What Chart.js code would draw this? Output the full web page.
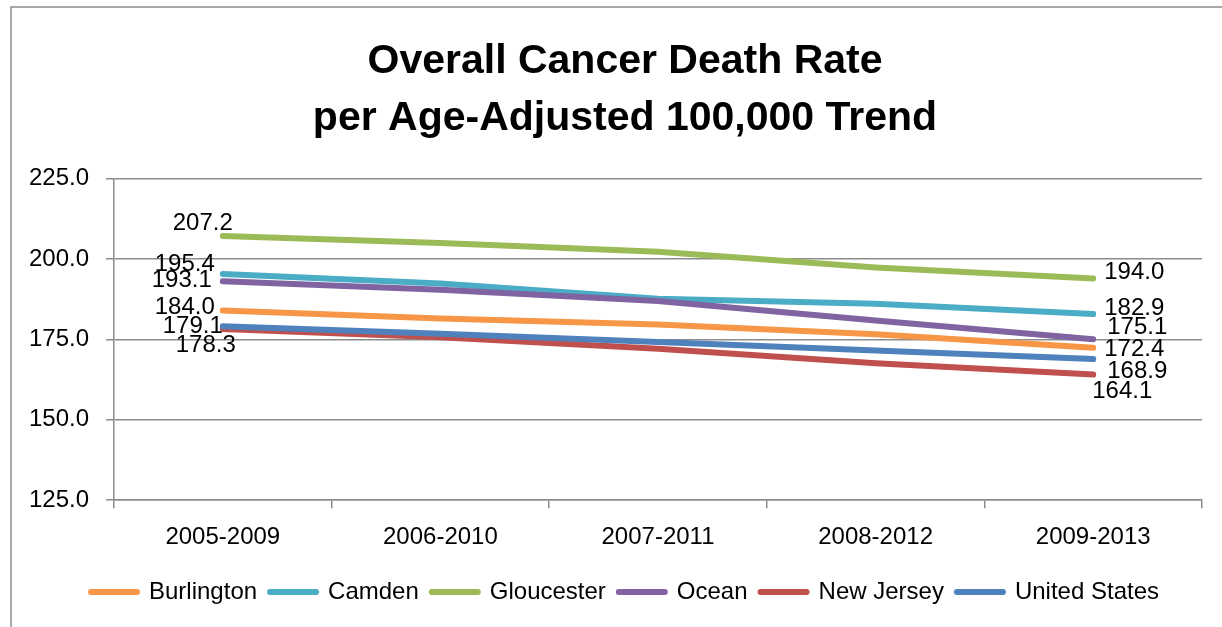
<!DOCTYPE html>
<html>
<head>
<meta charset="utf-8">
<script src="https://cdn.jsdelivr.net/npm/chart.js@4.4.0/dist/chart.umd.min.js"></script>
<style>
  html, body { margin: 0; padding: 0; background: #ffffff; }
  #wrap { position: relative; width: 1222px; height: 627px; }
</style>
</head>
<body>
<div id="wrap"><canvas id="c" width="1222" height="627"></canvas></div>
<script>
// ---- data ----
const categories = ['2005-2009', '2006-2010', '2007-2011', '2008-2012', '2009-2013'];
const seriesNames = ['Burlington', 'Camden', 'Gloucester', 'Ocean', 'New Jersey', 'United States'];
const burlington   = [184.0, 181.5, 179.7, 176.6, 172.4];
const camden       = [195.4, 192.4, 187.7, 186.1, 182.9];
const gloucester   = [207.2, 205.0, 202.3, 197.4, 194.0];
const ocean        = [193.1, 190.5, 187.0, 180.9, 175.1];
const newJersey    = [178.3, 175.7, 172.1, 167.6, 164.1];
const unitedStates = [179.1, 176.8, 174.2, 171.6, 168.9];
const yTicks = [125, 150, 175, 200, 225];
const titleLines = ['Overall Cancer Death Rate', 'per Age-Adjusted 100,000 Trend'];

// ---- styling ----
const FONT = "'Liberation Sans', Arial, sans-serif";
const colors = ['#F79646', '#4BACC6', '#9BBB59', '#8064A2', '#C0504D', '#4F81BD'];
const seriesValues = [burlington, camden, gloucester, ocean, newJersey, unitedStates];
// label nudges (px) for first (right-aligned) and last (left-aligned) point labels
const labelNudge = [
  { start: [-8, -3],  end: [11, 2] },
  { start: [-8, -10], end: [11, -6] },
  { start: [10, -13], end: [11, -6] },
  { start: [-11, -1], end: [14, -12] },
  { start: [13, 16],  end: [-1, 17] },
  { start: [0, 0],    end: [14, 12] }
];

const datasets = seriesNames.map((name, i) => ({
  label: name,
  data: seriesValues[i],
  borderColor: colors[i],
  backgroundColor: colors[i],
  borderWidth: 6,
  borderCapStyle: 'round',
  borderJoinStyle: 'round',
  pointRadius: 0,
  pointHoverRadius: 0,
  tension: 0,
  fill: false,
  order: seriesNames.length - i
}));

const framePlugin = {
  id: 'frame',
  beforeDraw(chart) {
    const ctx = chart.ctx;
    ctx.save();
    ctx.fillStyle = '#ffffff';
    ctx.fillRect(0, 0, chart.width, chart.height);
    ctx.strokeStyle = '#8c8c8c';
    ctx.lineWidth = 1.5;
    ctx.beginPath();
    ctx.moveTo(11, chart.height);
    ctx.lineTo(11, 7);
    ctx.lineTo(chart.width, 7);
    ctx.stroke();
    ctx.restore();
  }
};

const pointLabelPlugin = {
  id: 'pointLabels',
  afterDatasetsDraw(chart) {
    const ctx = chart.ctx;
    ctx.save();
    ctx.font = '24px ' + FONT;
    ctx.fillStyle = '#000000';
    ctx.textBaseline = 'middle';
    chart.data.datasets.forEach((ds, i) => {
      const meta = chart.getDatasetMeta(i);
      const n = meta.data.length;
      const first = meta.data[0], last = meta.data[n - 1];
      const nudge = labelNudge[i];
      ctx.textAlign = 'right';
      ctx.fillText(ds.data[0].toFixed(1), first.x + nudge.start[0], first.y + nudge.start[1]);
      ctx.textAlign = 'left';
      ctx.fillText(ds.data[n - 1].toFixed(1), last.x + nudge.end[0], last.y + nudge.end[1]);
    });
    ctx.restore();
  }
};

new Chart(document.getElementById('c'), {
  type: 'line',
  data: { labels: categories, datasets },
  plugins: [framePlugin, pointLabelPlugin],
  options: {
    responsive: false,
    animation: false,
    events: [],
    layout: { padding: { left: 48, right: 20, top: 0, bottom: 13 } },
    plugins: {
      title: {
        display: true,
        text: titleLines,
        color: '#000000',
        font: { family: FONT, size: 41, weight: 'bold', lineHeight: 1.4 },
        padding: { top: 33, bottom: 31 }
      },
      legend: {
        display: true,
        position: 'bottom',
        labels: {
          usePointStyle: true,
          pointStyle: 'line',
          pointStyleWidth: 46,
          color: '#000000',
          font: { family: FONT, size: 24 },
          padding: 13,
          sort: (a, b) => a.datasetIndex - b.datasetIndex,
          generateLabels: chart => Chart.defaults.plugins.legend.labels.generateLabels(chart)
            .map(item => Object.assign(item, { lineCap: 'round', lineWidth: 6 }))
        }
      },
      tooltip: { enabled: false }
    },
    scales: {
      x: {
        offset: true,
        grid: { display: true, drawOnChartArea: false, drawTicks: true, tickLength: 8, offset: true, color: '#8c8c8c', lineWidth: 1.5 },
        border: { display: true, color: '#8c8c8c', width: 1.5 },
        ticks: { color: '#000000', font: { family: FONT, size: 24 }, padding: 15, maxRotation: 0 }
      },
      y: {
        min: 125,
        max: 225,
        afterBuildTicks(scale) { scale.ticks = yTicks.map(v => ({ value: v })); },
        afterFit(scale) {
          scale.width = 66;
          // let tick labels extend into the left layout padding instead of being clipped
          scale._computeLabelArea = () => undefined;
        },
        grid: { color: '#8c8c8c', lineWidth: 1.5, tickLength: 8 },
        border: { display: true, color: '#8c8c8c', width: 1.5 },
        ticks: {
          color: '#000000',
          font: { family: FONT, size: 24 },
          padding: 17,
          callback: v => Number(v).toFixed(1)
        }
      }
    }
  }
});
</script>
</body>
</html>
